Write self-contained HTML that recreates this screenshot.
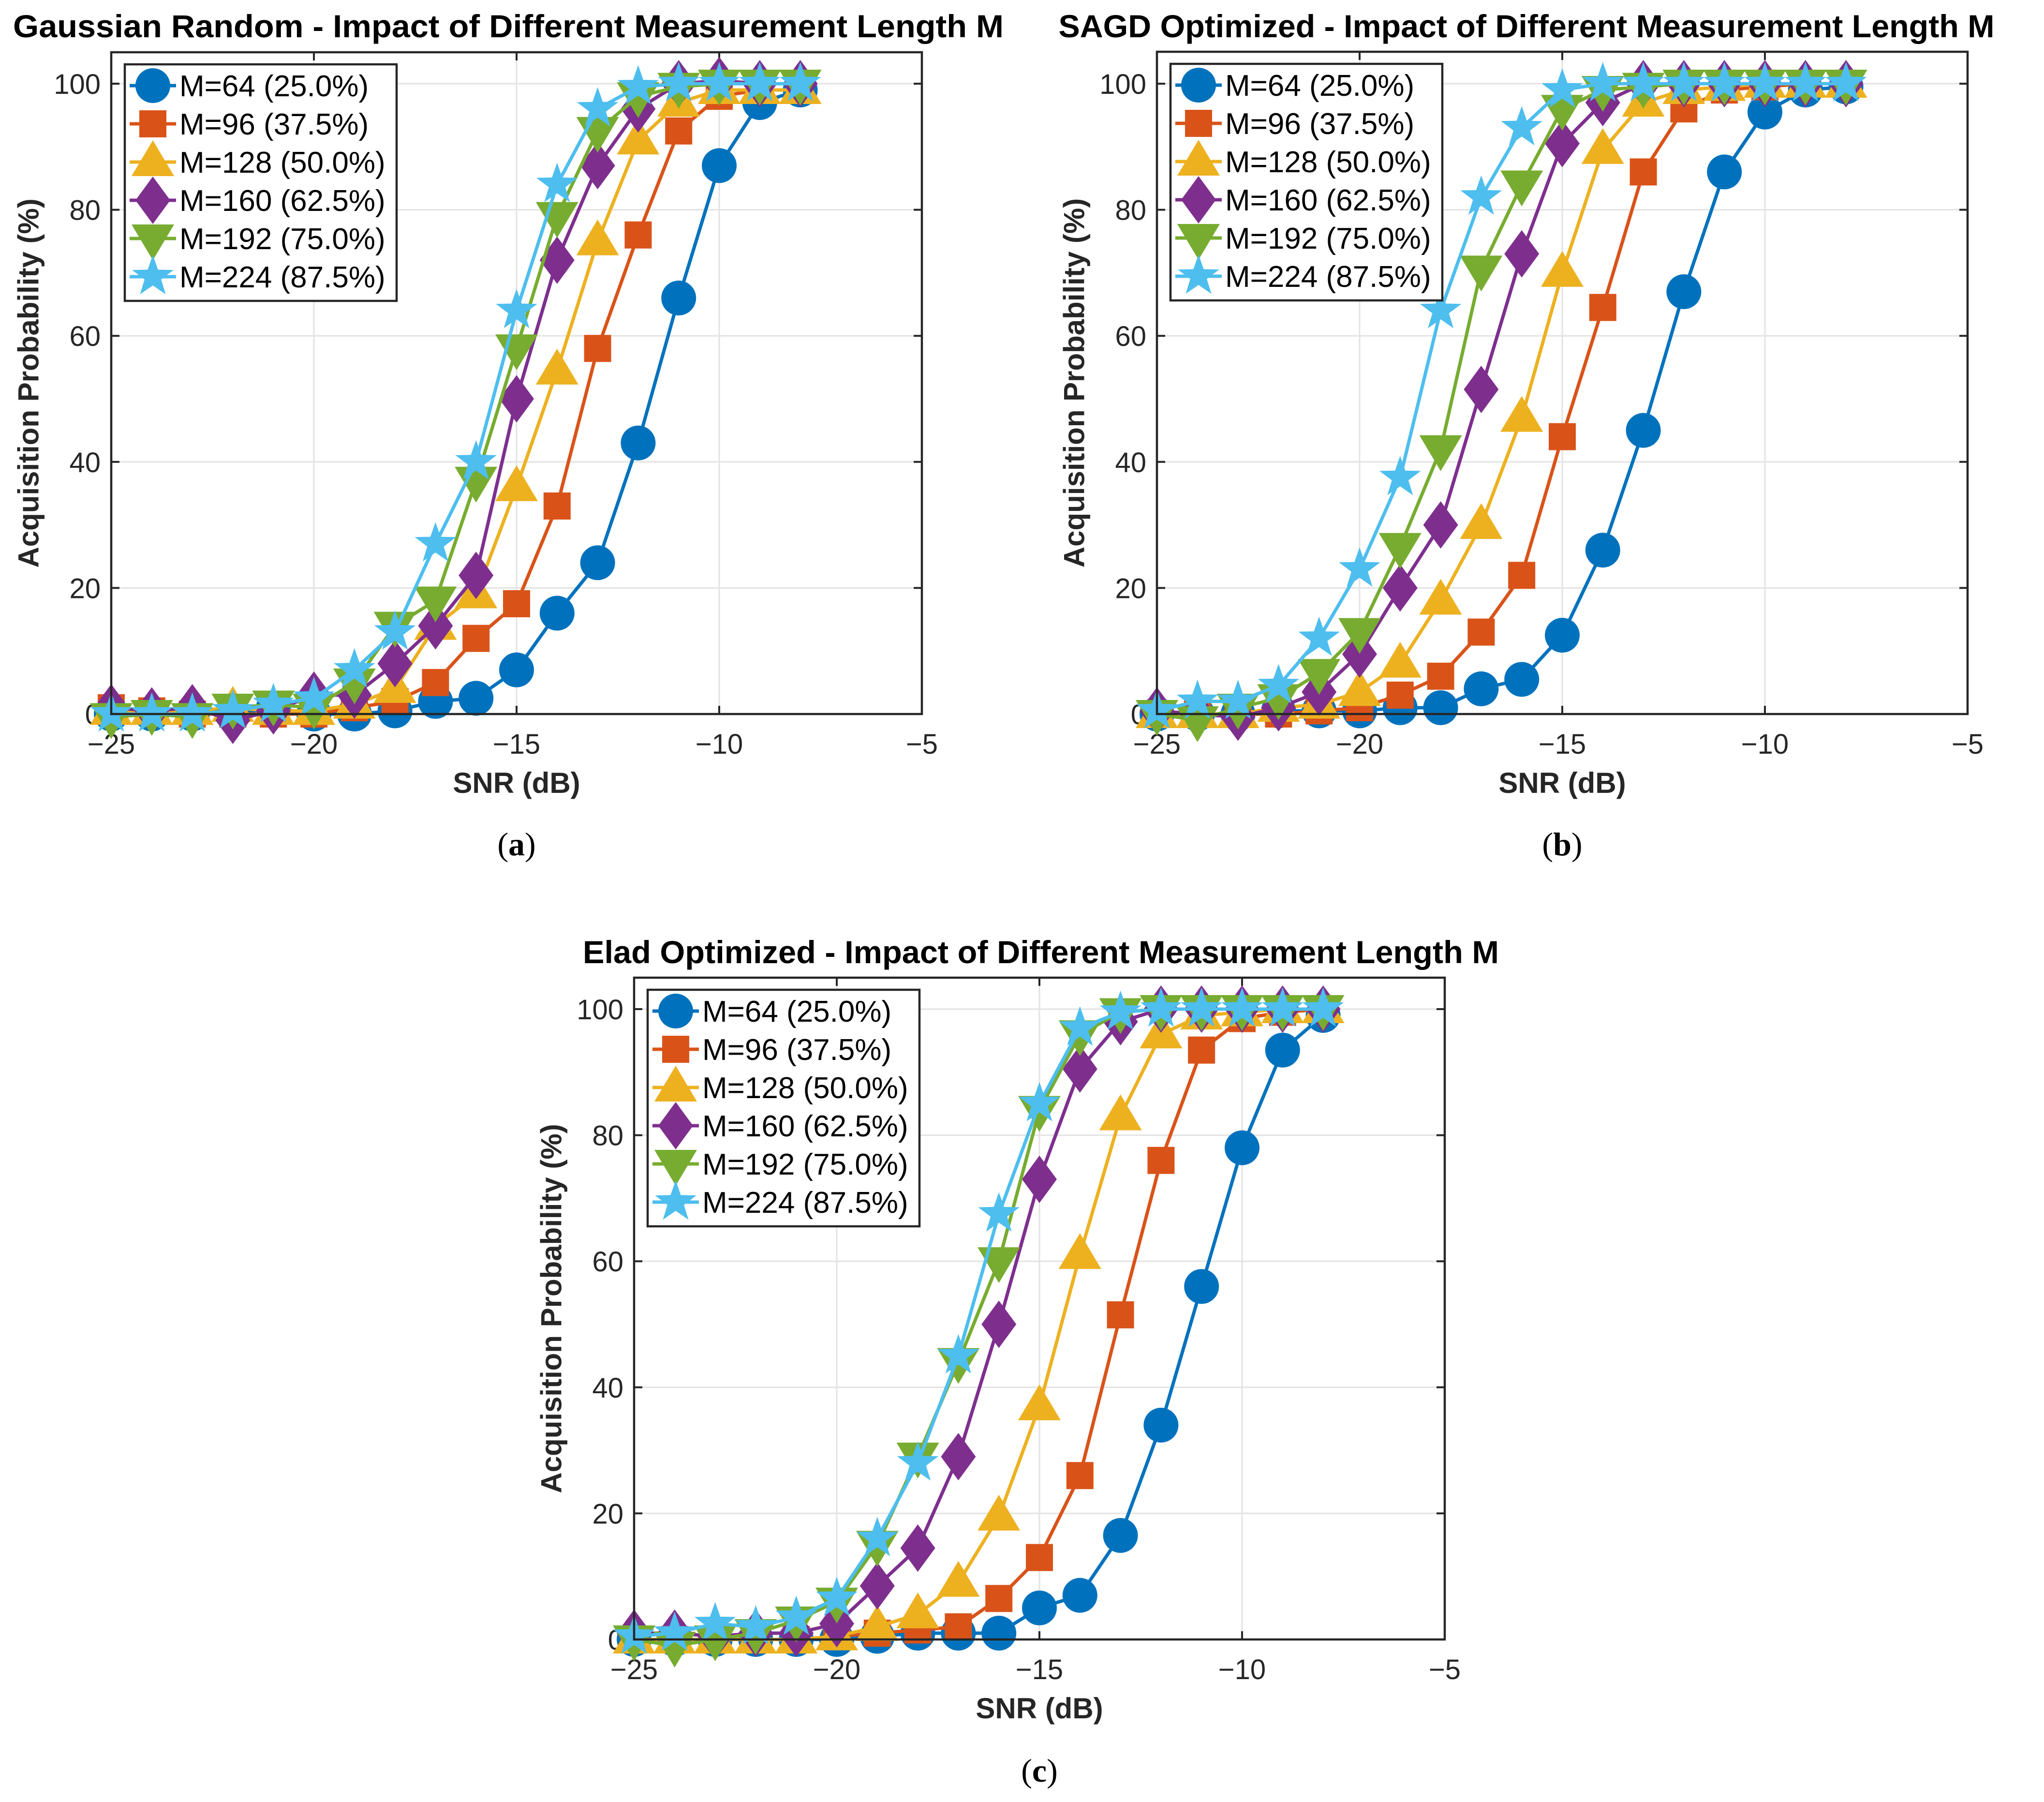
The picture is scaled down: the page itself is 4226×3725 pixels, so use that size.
<!DOCTYPE html>
<html><head><meta charset="utf-8"><style>
html,body{margin:0;padding:0;background:#fff;}
svg{display:block;}
text{font-family:"Liberation Sans",Arial,sans-serif;}
</style></head>
<body>
<svg id="fig" xmlns="http://www.w3.org/2000/svg" width="4226" height="3725" viewBox="0 0 4226 3725"></svg>
<script>
const snr = [-25,-24,-23,-22,-21,-20,-19,-18,-17,-16,-15,-14,-13,-12,-11,-10,-9,-8];
const seriesLabels = ["M=64 (25.0%)","M=96 (37.5%)","M=128 (50.0%)","M=160 (62.5%)","M=192 (75.0%)","M=224 (87.5%)"];
const xTicks = [-25,-20,-15,-10,-5];
const xTickLabels = ["\u221225","\u221220","\u221215","\u221210","\u22125"];
const yTicks = [0,20,40,60,80,100];
const yTickLabels = ["0","20","40","60","80","100"];

const gaussM64  = [0,0,0,0,1,0,0,0.5,2,2.5,7,16,24,43,66,87,97,99];
const gaussM96  = [1,0.5,0,0,0,0,1,2,5,12,17.5,33,58,76,92.5,98,99,99];
const gaussM128 = [0.5,0.5,0.5,1,0.5,0.5,1.5,4,14,19,36,54.5,75,91,97,99,99,99];
const gaussM160 = [1,0.5,1,-1,0.5,3,3,8,14,22,50,72,87,96,100,100.5,100,100];
const gaussM192 = [-0.5,0,-0.5,1,1.5,1,5,14,18,37,58,79,92.5,98,99.5,100,100,100];
const gaussM224 = [0,0,0,0.5,1.5,2.5,7,13,27,40,64,84,96,99.5,100,100,100,100];

const sagdM64  = [0,0,0,0.5,0.5,0.5,1,1,4,5.5,12.5,26,45,67,86,95.5,99,99.5];
const sagdM96  = [0,0,0,0,0.5,1,3,6,13,22,44,64.5,86,96,99,99.5,100,100];
const sagdM128 = [0,0,0,1,1.5,3.5,8,18,30,47,70,89.5,97,99,99.5,100,100,100];
const sagdM160 = [0.5,0,-0.5,1,3.5,9.5,20,30,51.5,73,90.5,97,100,100,100,100,100,100];
const sagdM192 = [0,-1,1,2.5,6.5,13,26.5,42,70.5,84,96,99,99.5,100,100,100,100,100];
const sagdM224 = [0.5,2,2,4.5,12,23,37.5,64,82,93,99,100,100,100,100,100,100,100];

const eladM64  = [0,0,0,0,0,0,0.5,1,1,1,5,7,16.5,34,56,78,93.5,99];
const eladM96  = [0,0,0,0,0,0.5,1,1.5,2,6.5,13,26,51.5,76,93.5,98.5,99.5,100];
const eladM128 = [0,0,0,0,0,0.5,2,4,9,19.5,37,61,83,96,99,99.5,100,100];
const eladM160 = [1,1,0.5,1,1,2.5,8.5,14.5,29,50,73,90.5,98,100,100,100,100,100];
const eladM192 = [0,-1,0,1,3,6,15,29,44,60,84,96,99.5,100,100,100,100,100];
const eladM224 = [0.5,1,2.5,2,3.5,6.5,16,28,45,67.5,85,97,99.5,100,100,100,100,100];

const colors = ["#0072BD","#D95319","#EDB120","#7E2F8E","#77AC30","#4DBEEE"];
const markers = ["circle","square","triangle","diamond","tridown","star"];

const panels = [
 {id:"a", title:"Gaussian Random - Impact of Different Measurement Length M", L:230, R:1906, T:108, B:1476, titleY:77, titleX:1051, titleW:2048, caption:"a", capY:1768,
  data:[gaussM64,gaussM96,gaussM128,gaussM160,gaussM192,gaussM224]},
 {id:"b", title:"SAGD Optimized - Impact of Different Measurement Length M", L:2392, R:4068, T:107, B:1476, titleY:77, titleX:3156, titleW:1935, caption:"b", capY:1768,
  data:[sagdM64,sagdM96,sagdM128,sagdM160,sagdM192,sagdM224]},
 {id:"c", title:"Elad Optimized - Impact of Different Measurement Length M", L:1311, R:2987, T:2021, B:3389, titleY:1991, titleX:2152, titleW:1894, caption:"c", capY:3683,
  data:[eladM64,eladM96,eladM128,eladM160,eladM192,eladM224]}
];

const NS="http://www.w3.org/2000/svg";
const svg=document.getElementById("fig");
function mk(tag,attrs,parent){const e=document.createElementNS(NS,tag);for(const k in attrs)e.setAttribute(k,attrs[k]);(parent||svg).appendChild(e);return e;}

function markerShape(type,cx,cy,color,g){
  let e;
  if(type==="circle"){e=mk("circle",{cx:cx,cy:cy,r:36,fill:color},g);}
  else if(type==="square"){e=mk("rect",{x:cx-28,y:cy-28,width:56,height:56,fill:color},g);}
  else if(type==="triangle"){e=mk("polygon",{points:`${cx},${cy-45} ${cx+44},${cy+29} ${cx-44},${cy+29}`,fill:color},g);}
  else if(type==="tridown"){e=mk("polygon",{points:`${cx},${cy+45} ${cx+44},${cy-29} ${cx-44},${cy-29}`,fill:color},g);}
  else if(type==="diamond"){e=mk("polygon",{points:`${cx},${cy-49} ${cx+36},${cy} ${cx},${cy+49} ${cx-36},${cy}`,fill:color},g);}
  else {let p=[];for(let i=0;i<10;i++){const r=i%2?18:45;const a=-Math.PI/2+i*Math.PI/5;p.push((cx+r*Math.cos(a)).toFixed(1)+","+(cy+r*Math.sin(a)).toFixed(1));}
    e=mk("polygon",{points:p.join(" "),fill:color},g);}
  return e;
}

panels.forEach(p=>{
  const g=mk("g",{});
  
  
  const xs=v=>p.L+(v+25)*(p.R-p.L)/20;
  const ys=v=>p.B-v*13.03;
  const cx=(p.L+p.R)/2;
  const t=mk("text",{x:p.titleX-p.titleW/2,y:p.titleY,"font-size":"66","font-weight":"bold",fill:"#000",textLength:p.titleW,lengthAdjust:"spacingAndGlyphs"},g);
  t.textContent=p.title;
  
  
  mk("rect",{x:p.L,y:p.T,width:p.R-p.L,height:p.B-p.T,fill:"#fff"},g);
  xTicks.forEach(v=>{const gl=mk("line",{x1:xs(v),x2:xs(v),y1:p.T,y2:p.B,stroke:"#e3e3e3","stroke-width":3},g);
    });
  yTicks.forEach(v=>{const gl=mk("line",{x1:p.L,x2:p.R,y1:ys(v),y2:ys(v),stroke:"#e3e3e3","stroke-width":3},g);
    });
  xTicks.forEach((v,i)=>{
    mk("line",{x1:xs(v),x2:xs(v),y1:p.B,y2:p.B-17,stroke:"#262626","stroke-width":4},g);
    mk("line",{x1:xs(v),x2:xs(v),y1:p.T,y2:p.T+17,stroke:"#262626","stroke-width":4},g);
    const tl=mk("text",{x:xs(v),y:p.B+82,"text-anchor":"middle","font-size":"58",fill:"#262626"},g);
    tl.textContent=xTickLabels[i];
    
  });
  yTicks.forEach((v,i)=>{
    mk("line",{x1:p.L,x2:p.L+17,y1:ys(v),y2:ys(v),stroke:"#262626","stroke-width":4},g);
    mk("line",{x1:p.R,x2:p.R-17,y1:ys(v),y2:ys(v),stroke:"#262626","stroke-width":4},g);
    const tl=mk("text",{x:p.L-22,y:ys(v)+21,"text-anchor":"end","font-size":"58",fill:"#262626"},g);
    tl.textContent=yTickLabels[i];
    
  });
  const xl=mk("text",{x:cx,y:p.B+163,"text-anchor":"middle","font-size":"60","font-weight":"bold",fill:"#262626"},g);
  xl.textContent="SNR (dB)";
  
  const ymid=(p.T+p.B)/2, yx=p.L-171;
  const yl=mk("text",{x:yx,y:ymid,"text-anchor":"middle","dominant-baseline":"central","font-size":"60","font-weight":"bold",fill:"#262626",transform:`rotate(-90 ${yx} ${ymid})`},g);
  yl.textContent="Acquisition Probability (%)";
  
  p.data.forEach((vals,si)=>{
    const sg=mk("g",{},g);
    
    
    const pts=vals.map((v,i)=>xs(snr[i]).toFixed(1)+","+ys(v).toFixed(1)).join(" ");
    const pl=mk("polyline",{points:pts,fill:"none",stroke:colors[si],"stroke-width":7,"stroke-linejoin":"round"},sg);
    
    vals.forEach((v,i)=>{const m=markerShape(markers[si],xs(snr[i]),ys(v),colors[si],sg);
      });
  });
  mk("rect",{x:p.L,y:p.T,width:p.R-p.L,height:p.B-p.T,fill:"none",stroke:"#262626","stroke-width":4.5},g);
  const lg=mk("g",{},g);
  
  
  const lx=p.L+28, ly=p.T+25;
  mk("rect",{x:lx,y:ly,width:562,height:489,fill:"#fff",stroke:"#262626","stroke-width":4.5},lg);
  seriesLabels.forEach((lab,i)=>{
    const ry=ly+44+i*79;
    const eg=mk("g",{},lg);
    
    
    mk("line",{x1:lx+10,x2:lx+106,y1:ry,y2:ry,stroke:colors[i],"stroke-width":7},eg);
    markerShape(markers[i],lx+58,ry,colors[i],eg);
    const tx=mk("text",{x:lx+113,y:ry+22,"font-size":"62",fill:"#000"},eg);
    tx.textContent=lab;
  });
  const cp=mk("text",{x:cx,y:p.capY,"text-anchor":"middle","font-size":"68",fill:"#000"},g);
  cp.setAttribute("style","font-family:'Liberation Serif',serif");
  const s1=mk("tspan",{},cp); s1.textContent="(";
  const s2=mk("tspan",{"font-weight":"bold"},cp); s2.textContent=p.caption;
  const s3=mk("tspan",{},cp); s3.textContent=")";
  
});
</script>
</body></html>
